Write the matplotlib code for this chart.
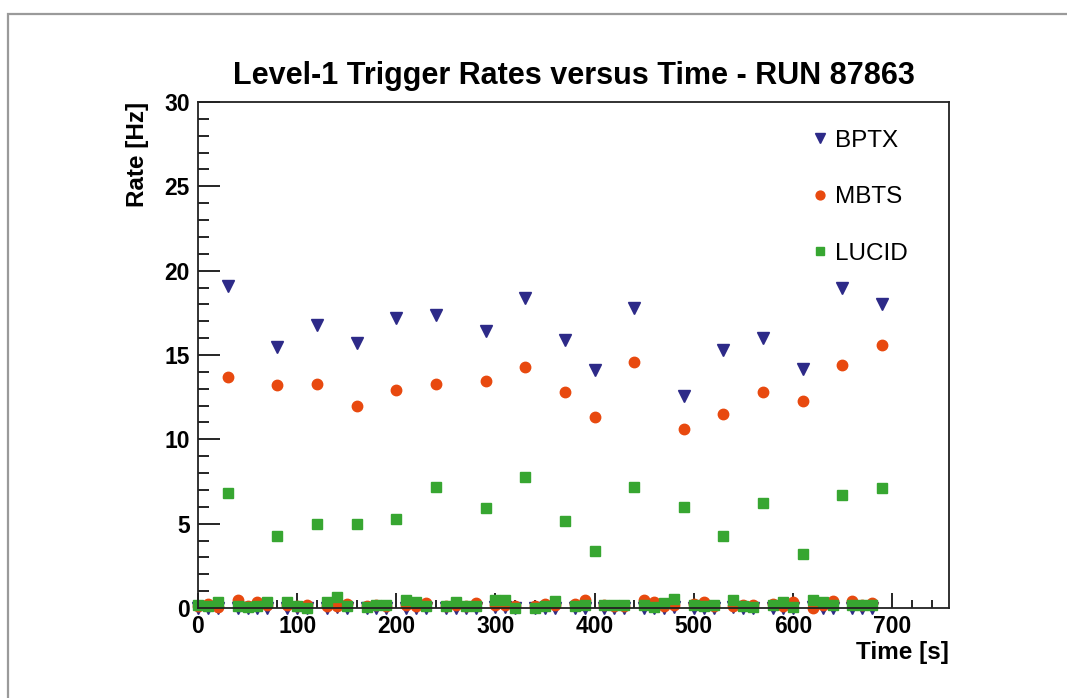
import matplotlib
matplotlib.use("Agg")
import matplotlib.pyplot as plt
from matplotlib.ticker import MultipleLocator
from matplotlib.patches import Rectangle

plt.rcParams['font.family'] = ['Liberation Sans', 'DejaVu Sans']

time_s = list(range(0, 700, 10))

bptx = [0.0, 0.0, 0.0, 19.1, 0.0, 0.0, 0.0, 0.0, 15.5, 0.0,
        0.0, 0.0, 16.8, 0.0, 0.05, 0.0, 15.7, 0.0, 0.0, 0.0,
        17.2, 0.0, 0.0, 0.0, 17.4, 0.0, 0.0, 0.0, 0.0, 16.4,
        0.05, 0.05, 0.0, 18.4, 0.0, 0.0, 0.0, 15.9, 0.0, 0.0,
        14.1, 0.0, 0.0, 0.0, 17.8, 0.0, 0.0, 0.0, 0.05, 12.55,
        0.0, 0.0, 0.0, 15.3, 0.05, 0.0, 0.0, 16.0, 0.0, 0.0,
        0.0, 14.15, 0.05, 0.0, 0.0, 19.0, 0.0, 0.0, 0.0, 18.05]

mbts = [0.1, 0.25, 0.05, 13.7, 0.45, 0.1, 0.35, 0.2, 13.2, 0.15,
        0.1, 0.2, 13.3, 0.1, 0.1, 0.25, 12.0, 0.1, 0.15, 0.1,
        12.9, 0.15, 0.1, 0.3, 13.3, 0.1, 0.2, 0.1, 0.3, 13.45,
        0.2, 0.15, 0.1, 14.3, 0.1, 0.25, 0.15, 12.8, 0.25, 0.45,
        11.3, 0.2, 0.1, 0.1, 14.6, 0.45, 0.35, 0.1, 0.15, 10.6,
        0.25, 0.35, 0.1, 11.5, 0.1, 0.2, 0.15, 12.8, 0.25, 0.1,
        0.35, 12.3, 0.0, 0.2, 0.4, 14.4, 0.4, 0.2, 0.3, 15.6]

lucid = [0.2, 0.1, 0.35, 6.8, 0.1, 0.05, 0.1, 0.35, 4.25, 0.35,
         0.1, 0.0, 5.0, 0.35, 0.65, 0.1, 5.0, 0.05, 0.15, 0.2,
         5.25, 0.45, 0.35, 0.1, 7.15, 0.1, 0.35, 0.1, 0.1, 5.95,
         0.45, 0.45, 0.0, 7.75, 0.0, 0.1, 0.4, 5.15, 0.1, 0.2,
         3.4, 0.2, 0.2, 0.2, 7.15, 0.2, 0.05, 0.3, 0.55, 6.0,
         0.2, 0.1, 0.2, 4.25, 0.45, 0.1, 0.05, 6.25, 0.15, 0.35,
         0.05, 3.2, 0.45, 0.35, 0.15, 6.7, 0.15, 0.15, 0.15, 7.1]

series_names = ["BPTX", "MBTS", "LUCID"]
title = "Level-1 Trigger Rates versus Time - RUN 87863"

fig = plt.figure(figsize=(10.67, 6.98), dpi=100)
W, H = 1067, 698
# gray outer frame
fig.patches.append(Rectangle((8 / W, -0.1), 1.2, (H - 14) / H + 0.1,
                             transform=fig.transFigure, fill=False,
                             edgecolor='#9a9a9a', linewidth=1.6))

ax = fig.add_axes([198 / W, 1 - 608 / H, (949 - 198) / W, (608 - 102) / H])

ax.plot(time_s, bptx, linestyle='none', marker='v', markersize=8.5,
        color='#2d2a88', label=series_names[0], clip_on=False)
ax.plot(time_s, mbts, linestyle='none', marker='o', markersize=7.5,
        color='#e8490f', label=series_names[1], clip_on=False)
ax.plot(time_s, lucid, linestyle='none', marker='s', markersize=7.2,
        color='#37a631', label=series_names[2], clip_on=False)

ax.set_xlim(0, 757.5)
ax.set_ylim(0, 30)
ax.xaxis.set_major_locator(MultipleLocator(100))
ax.xaxis.set_minor_locator(MultipleLocator(20))
ax.yaxis.set_major_locator(MultipleLocator(5))
ax.yaxis.set_minor_locator(MultipleLocator(1))

ax.tick_params(axis='x', which='major', direction='in', length=11, width=1.2,
               labelsize=16.5, pad=5, top=False)
ax.tick_params(axis='x', which='minor', direction='in', length=5.5, width=1.2, top=False)
ax.tick_params(axis='y', which='major', direction='in', length=16, width=1.2,
               labelsize=16.5, pad=6, right=False)
ax.tick_params(axis='y', which='minor', direction='in', length=8, width=1.2, right=False)
for lbl in ax.get_xticklabels() + ax.get_yticklabels():
    lbl.set_fontweight('bold')
for sp in ax.spines.values():
    sp.set_linewidth(1.3)
    sp.set_color('#222222')

ax.set_xlabel("Time [s]", fontsize=17.5, fontweight='bold', loc='right', labelpad=2)
ax.set_ylabel("Rate [Hz]", fontsize=17.5, fontweight='bold', loc='top', labelpad=11)
ax.set_title(title, fontsize=22, fontweight='bold', pad=13)

ax.legend(loc='upper left', bbox_to_anchor=((803 - 198) / 751, 1 - (120 - 102) / 506),
          frameon=False, fontsize=17.5, numpoints=1, handlelength=0.6, markerscale=0.85,
          handletextpad=0.3, labelspacing=1.42, borderaxespad=0)

fig.savefig("out.png", dpi=100)
